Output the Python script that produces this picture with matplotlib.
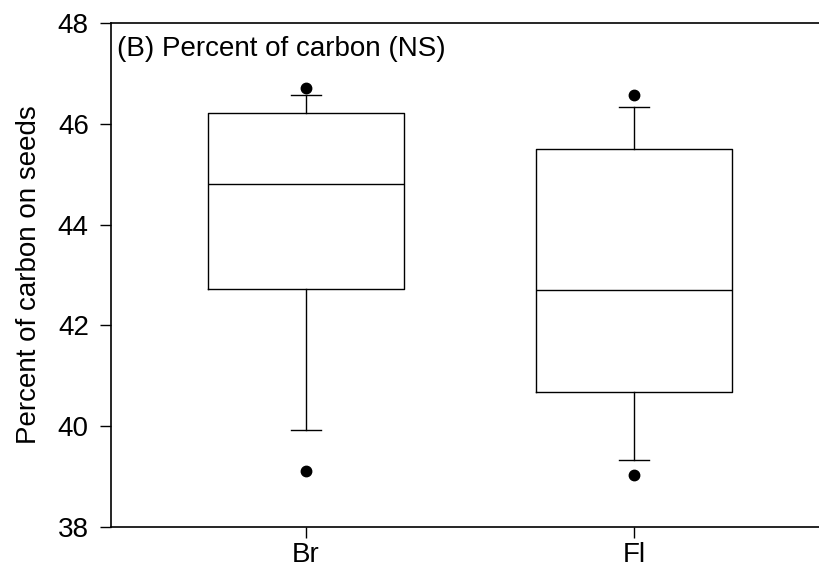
import matplotlib.pyplot as plt

plt.rcParams['font.family'] = ['Liberation Sans', 'DejaVu Sans']

groups = ["Br", "Fl"]
whisker_low = [39.92, 39.33]
q1 = [42.72, 40.67]
medians = [44.81, 42.70]
q3 = [46.21, 45.50]
whisker_high = [46.57, 46.33]
outliers = [[39.11, 46.71], [39.03, 46.57]]

stats = []
for i, g in enumerate(groups):
    stats.append({"label": g, "whislo": whisker_low[i], "q1": q1[i], "med": medians[i],
                  "q3": q3[i], "whishi": whisker_high[i], "fliers": outliers[i]})

fig = plt.figure(figsize=(8.2, 5.69), dpi=100)
ax = fig.add_axes([0.1354, 0.0738, 0.8646, 0.8858])

line = dict(color="black", linewidth=1.0)
ax.bxp(stats, positions=[1, 2], widths=0.598, capwidths=0.0915,
       boxprops=line, medianprops=line, whiskerprops=line, capprops=line,
       flierprops=dict(marker="o", markerfacecolor="black", markeredgecolor="black", markersize=7.5))

ax.set_xlim(0.4055, 2.567)
ax.set_ylim(38, 48)
ax.set_yticks([38, 40, 42, 44, 46, 48])
ax.spines["right"].set_visible(False)
for s in ["left", "top", "bottom"]:
    ax.spines[s].set_linewidth(1.2)
ax.tick_params(axis="both", labelsize=20, length=8, width=1.0, direction="out")
ax.tick_params(axis="y", pad=8)
ax.tick_params(axis="x", pad=3)
ax.set_ylabel("Percent of carbon on seeds", fontsize=20)
ax.yaxis.set_label_coords(-0.097, 0.5)
ax.text(0.008, 0.975, "(B) Percent of carbon (NS)", transform=ax.transAxes,
        fontsize=20, va="top", ha="left")

fig.savefig("out.png", dpi=100)
